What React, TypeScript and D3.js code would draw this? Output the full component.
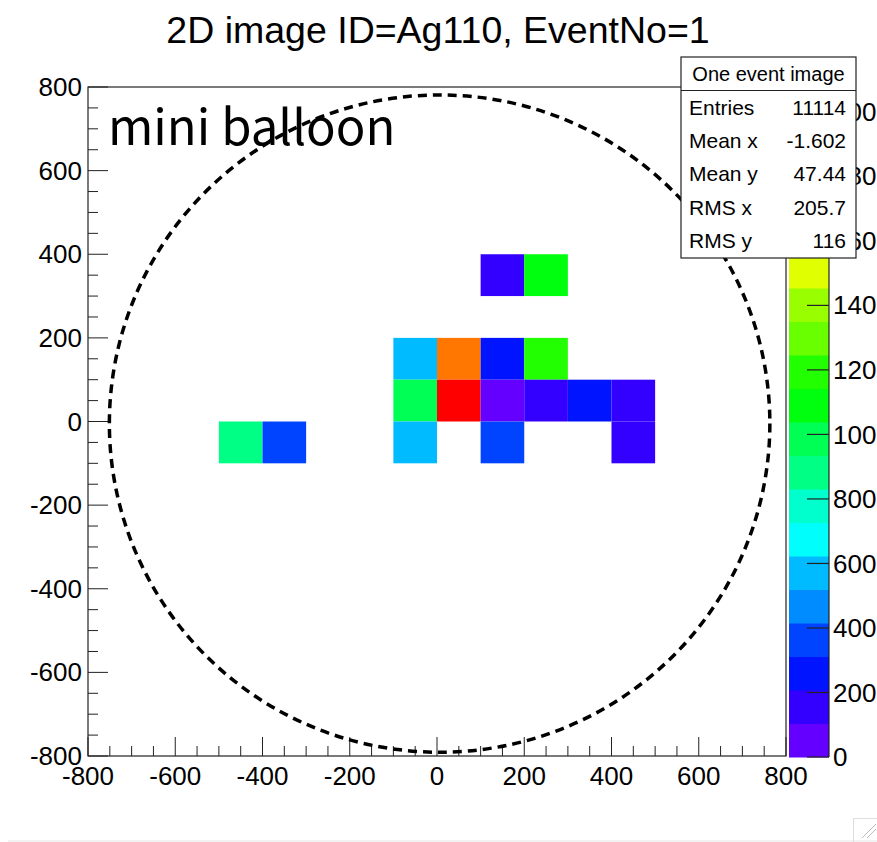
import React from 'react';
import * as d3 from 'd3';

// ---- data ----
const titleText = '2D image ID=Ag110, EventNo=1';
const annotationText = 'mini balloon';
const binWidth = 100;
const xBinLow = [100, 200, -100, 0, 100, 200, -100, 0, 100, 200, 300, 400, -500, -400, -100, 100, 400];
const yBinLow = [300, 300, 100, 100, 100, 100, 0, 0, 0, 0, 0, 0, -100, -100, -100, -100, -100];
const counts = [170, 1090, 580, 1820, 260, 1190, 990, 2077, 60, 150, 250, 160, 880, 360, 590, 350, 180];
const axisTicks = [-800, -600, -400, -200, 0, 200, 400, 600, 800];
const zTicks = [0, 200, 400, 600, 800, 1000, 1200, 1400, 1600, 1800, 2000];
const statsTitle = 'One event image';
const statsLabels = ['Entries', 'Mean x', 'Mean y', 'RMS x', 'RMS y'];
const statsValues = ['11114', '-1.602', '47.44', '205.7', '116'];
const balloonCenter = [6, -5];
const balloonRadius = [757, 786];
const nContours = 20;

// ROOT "pretty" palette (50 colours, hue 280 -> 0)
const palette = d3.range(50).map((i) => d3.hsl(280 - (i + 1) * 5.6, 1, 0.5).formatHex());
const levelColor = (k: number) => palette[Math.floor(((k + 0.99) * 50) / nContours)];

export default function App() {
  const W = 877, H = 842;
  const left = 88, right = 786, top = 87, bottom = 756;
  const x = d3.scaleLinear().domain([-800, 800]).range([left, right]);
  const y = d3.scaleLinear().domain([-800, 800]).range([bottom, top]);
  const zMax = d3.max(counts) as number;
  const z = d3.scaleLinear().domain([0, zMax]).range([bottom + 1, top]);
  const levelOf = (v: number) => Math.min(nContours - 1, Math.floor(v / (zMax / nContours)));
  const minor = d3.range(-800, 801, 50);
  const font = 'Liberation Sans, Arial, Helvetica, sans-serif';
  const ink = '#222';
  const cbL = 789, cbR = 829;

  const rx = x(balloonRadius[0]) - x(0);
  const ry = y(0) - y(balloonRadius[1]);

  const rowY = [108, 141, 174, 208, 241];

  return (
    <svg width={W} height={H} style={{ position: 'absolute', left: 0, top: 0, background: '#fff' }} fontFamily={font}>
      <rect x={0} y={0} width={W} height={H} fill="#fff" />
      {/* title */}
      <text x={438} y={43} textAnchor="middle" fontSize={37.5} fill="#000">{titleText}</text>

      {/* cells */}
      {counts.map((c, i) => (
        <rect
          key={i}
          x={x(xBinLow[i])}
          y={y(yBinLow[i] + binWidth)}
          width={x(xBinLow[i] + binWidth) - x(xBinLow[i])}
          height={y(yBinLow[i]) - y(yBinLow[i] + binWidth)}
          fill={levelColor(levelOf(c))}
        />
      ))}

      {/* frame */}
      <rect x={left} y={top} width={right - left} height={bottom - top} fill="none" stroke={ink} strokeWidth={1.2} />

      {/* x ticks */}
      {minor.map((t) => (
        <line key={'xm' + t} x1={x(t)} x2={x(t)} y1={bottom} y2={bottom - (t % 200 === 0 ? 19 : 10)} stroke={ink} strokeWidth={1} />
      ))}
      {axisTicks.map((t) => (
        <text key={'xl' + t} x={x(t)} y={785} textAnchor="middle" fontSize={26} fill="#000">{t}</text>
      ))}
      {/* y ticks */}
      {minor.map((t) => (
        <line key={'ym' + t} x1={left} x2={left + (t % 200 === 0 ? 20 : 10)} y1={y(t)} y2={y(t)} stroke={ink} strokeWidth={1} />
      ))}
      {axisTicks.map((t) => (
        <text key={'yl' + t} x={82} y={y(t)} dy="0.35em" textAnchor="end" fontSize={26} fill="#000">{t}</text>
      ))}

      {/* colour bar */}
      {d3.range(nContours).map((k) => (
        <rect key={'cb' + k} x={cbL} y={z(((k + 1) * zMax) / nContours)} width={cbR - cbL}
          height={z((k * zMax) / nContours) - z(((k + 1) * zMax) / nContours) + 0.5} fill={levelColor(k)} />
      ))}
      <line x1={cbR} x2={cbR} y1={top} y2={bottom + 1} stroke={ink} strokeWidth={1.2} />
      {zTicks.map((t) => (
        <g key={'zt' + t}>
          <line x1={cbR - 22} x2={cbR} y1={z(t)} y2={z(t)} stroke={ink} strokeWidth={1.2} />
          <text x={833} y={z(t)} dy="0.35em" fontSize={26} fill="#000">{t}</text>
        </g>
      ))}

      {/* dashed balloon */}
      <ellipse cx={x(balloonCenter[0])} cy={y(balloonCenter[1])} rx={rx} ry={ry} fill="none" stroke="#000" strokeWidth={3.5} strokeDasharray="9 6" />

      {/* annotation */}
      <text x={108} y={145} fontSize={49} fontFamily="Noto Sans CJK JP, Noto Sans, sans-serif" fill="#000">{annotationText}</text>

      {/* stats box */}
      <rect x={681} y={57} width={175} height={201} fill="#fff" stroke={ink} strokeWidth={1.2} />
      <line x1={681} x2={856} y1={90.5} y2={90.5} stroke={ink} strokeWidth={1.2} />
      <text x={768.5} y={74} dy="0.35em" textAnchor="middle" fontSize={20} fill="#000">{statsTitle}</text>
      {statsLabels.map((l, i) => (
        <g key={'st' + i}>
          <text x={689} y={rowY[i]} dy="0.35em" fontSize={21} fill="#000">{l}</text>
          <text x={846} y={rowY[i]} dy="0.35em" textAnchor="end" fontSize={21} fill="#000">{statsValues[i]}</text>
        </g>
      ))}

      {/* window edge */}
      <line x1={8} x2={W} y1={841} y2={841} stroke="#e6e6e6" strokeWidth={1} />
      <rect x={853.5} y={818.5} width={30} height={30} fill="none" stroke="#ddd" />
      <line x1={862} x2={876} y1={838} y2={824} stroke="#bbb" />
      <line x1={867} x2={876} y1={838} y2={829} stroke="#bbb" />
    </svg>
  );
}
